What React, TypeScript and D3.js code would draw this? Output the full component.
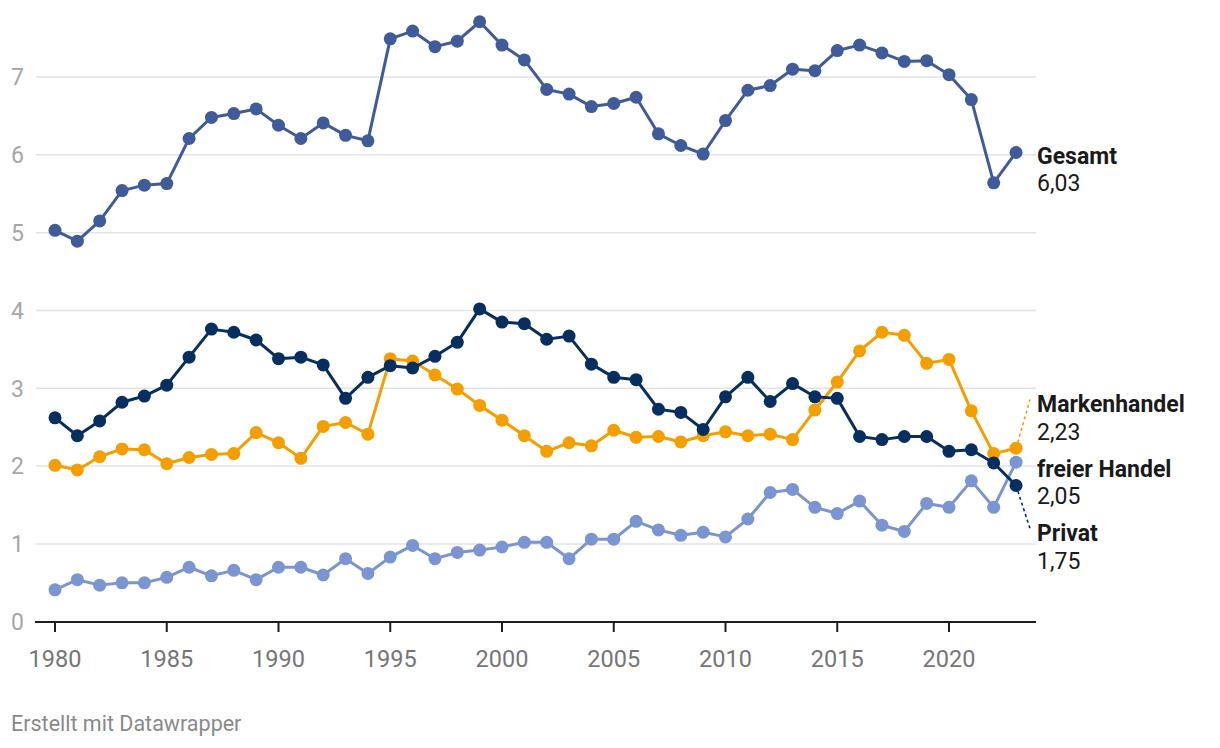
import React from "react";
import * as d3 from "d3";

const years: number[] = d3.range(1980, 2024);

const gesamt = [5.03, 4.89, 5.15, 5.54, 5.61, 5.63, 6.21, 6.48, 6.53, 6.59, 6.38, 6.21, 6.41, 6.25, 6.18, 7.49, 7.59, 7.39, 7.46, 7.71, 7.41, 7.22, 6.84, 6.78, 6.62, 6.66, 6.74, 6.27, 6.12, 6.01, 6.44, 6.83, 6.89, 7.10, 7.08, 7.34, 7.41, 7.31, 7.20, 7.21, 7.03, 6.71, 5.64, 6.03];
const privat = [2.62, 2.39, 2.58, 2.82, 2.90, 3.04, 3.40, 3.76, 3.72, 3.62, 3.38, 3.40, 3.30, 2.87, 3.14, 3.29, 3.26, 3.41, 3.59, 4.02, 3.85, 3.83, 3.63, 3.67, 3.31, 3.14, 3.11, 2.73, 2.69, 2.47, 2.89, 3.14, 2.83, 3.06, 2.89, 2.87, 2.38, 2.34, 2.38, 2.38, 2.19, 2.21, 2.04, 1.75];
const markenhandel = [2.01, 1.95, 2.12, 2.22, 2.21, 2.03, 2.11, 2.15, 2.16, 2.43, 2.30, 2.10, 2.51, 2.56, 2.41, 3.38, 3.35, 3.17, 2.99, 2.78, 2.59, 2.39, 2.19, 2.30, 2.26, 2.46, 2.37, 2.38, 2.31, 2.39, 2.44, 2.39, 2.41, 2.34, 2.72, 3.08, 3.48, 3.72, 3.68, 3.32, 3.37, 2.71, 2.16, 2.23];
const freierHandel = [0.41, 0.54, 0.47, 0.50, 0.50, 0.57, 0.70, 0.59, 0.66, 0.54, 0.70, 0.70, 0.60, 0.81, 0.62, 0.83, 0.98, 0.81, 0.89, 0.92, 0.96, 1.02, 1.02, 0.81, 1.06, 1.06, 1.29, 1.18, 1.11, 1.15, 1.09, 1.32, 1.66, 1.70, 1.47, 1.39, 1.55, 1.24, 1.16, 1.52, 1.47, 1.81, 1.47, 2.05];

const seriesNames = ["freier Handel", "Markenhandel", "Privat", "Gesamt"];
const seriesColors = ["#7b95d2", "#f49e00", "#062e5f", "#405b9a"];
const seriesValues = [freierHandel, markenhandel, privat, gesamt];

const yTicks = [0, 1, 2, 3, 4, 5, 6, 7];
const xTicks = [1980, 1985, 1990, 1995, 2000, 2005, 2010, 2015, 2020];
const footer = "Erstellt mit Datawrapper";

const W = 1220;
const H = 748;
const FONT = "Roboto, 'Noto Sans', sans-serif";

export default function App() {
  const x = d3.scaleLinear().domain([1980, 2023]).range([55, 1016.05]);
  const y = d3.scaleLinear().domain([0, 7]).range([621.7, 77]);
  const line = d3
    .line<number>()
    .x((_, i) => x(years[i]))
    .y((v) => y(v));

  const fmt = (v: number) => v.toFixed(2).replace(".", ",");

  const lastYear = years[years.length - 1];
  const labels = seriesNames.map((name, i) => {
    const v = seriesValues[i][seriesValues[i].length - 1];
    return { name, v, color: seriesColors[i], py: y(v), cy: y(v) };
  });
  const sorted = [...labels].sort((a, b) => a.py - b.py);
  const gap = 64.5;
  const groups = sorted.map((l) => ({ items: [l], center: l.py }));
  let changed = true;
  while (changed) {
    changed = false;
    for (let i = 0; i < groups.length - 1; i++) {
      const a = groups[i];
      const b = groups[i + 1];
      const aBottom = a.center + ((a.items.length - 1) * gap) / 2;
      const bTop = b.center - ((b.items.length - 1) * gap) / 2;
      if (bTop - aBottom < gap) {
        const items = [...a.items, ...b.items];
        const center = d3.mean(items, (d) => d.py) as number;
        groups.splice(i, 2, { items, center });
        changed = true;
        break;
      }
    }
  }
  groups.forEach((g) => {
    const n = g.items.length;
    g.items.forEach((it, k) => {
      it.cy = g.center + (k - (n - 1) / 2) * gap;
    });
  });

  const labelX = 1037;

  return (
    <svg
      width={W}
      height={H}
      style={{ position: "absolute", left: 0, top: 0, background: "#fff" }}
      fontFamily={FONT}
    >
      {yTicks
        .filter((t) => t > 0)
        .map((t) => (
          <line key={"g" + t} x1={36} x2={1036} y1={y(t)} y2={y(t)} stroke="#e3e3e3" strokeWidth={1.5} />
        ))}
      {yTicks.map((t) => (
        <text key={"yl" + t} x={11} y={y(t) + 8.3} fontSize={23} fill="#a6a6a6">
          {t}
        </text>
      ))}
      <line x1={35} x2={1036} y1={622} y2={622} stroke="#1e1e1e" strokeWidth={2.2} />
      {xTicks.map((t) => (
        <g key={"xt" + t}>
          <line x1={x(t)} x2={x(t)} y1={622} y2={632} stroke="#1e1e1e" strokeWidth={2} />
          <text x={x(t)} y={667} textAnchor="middle" fontSize={23.5} fill="#767676">
            {t}
          </text>
        </g>
      ))}

      {labels.map((l) =>
        Math.abs(l.cy - l.py) > 10 ? (
          <line
            key={"c" + l.name}
            x1={x(lastYear)}
            y1={l.py}
            x2={1030}
            y2={l.cy + 11.5 - 12.7}
            stroke={l.color}
            strokeWidth={1.6}
            strokeDasharray="3,3"
          />
        ) : null
      )}

      {seriesValues.map((vals, i) => (
        <g key={"s" + i}>
          <path d={line(vals) || ""} fill="none" stroke={seriesColors[i]} strokeWidth={3} strokeLinejoin="round" />
          {vals.map((v, j) => (
            <circle key={j} cx={x(years[j])} cy={y(v)} r={6.5} fill={seriesColors[i]} />
          ))}
        </g>
      ))}

      {labels.map((l) => (
        <g key={"l" + l.name}>
          <text x={labelX} y={l.cy + 11.5} fontSize={23} fontWeight={700} fill="#1a1a1a">
            {l.name}
          </text>
          <text x={labelX} y={l.cy + 11.5 + 27.5} fontSize={23} fill="#1a1a1a">
            {fmt(l.v)}
          </text>
        </g>
      ))}

      <text x={11} y={731} fontSize={21.5} fill="#8a8a8a">
        {footer}
      </text>
    </svg>
  );
}
